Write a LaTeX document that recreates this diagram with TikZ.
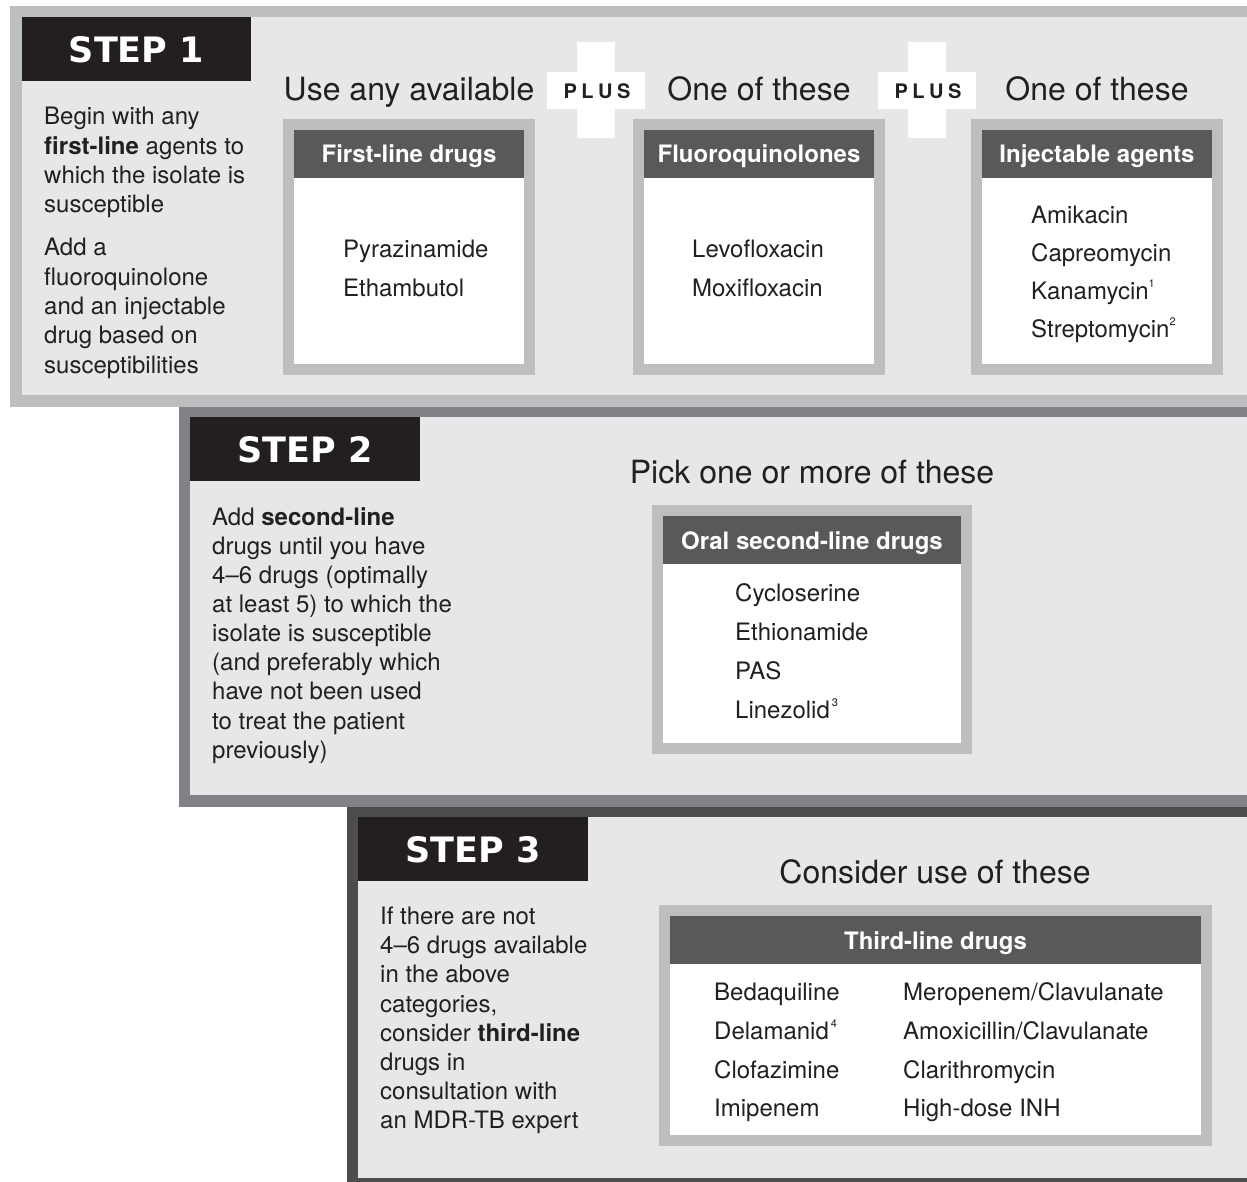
\documentclass[tikz,border=0pt]{standalone}
\usepackage{fontspec}
\setmainfont{TeX Gyre Heros}
\newfontfamily\stepfont{DejaVu Sans}
\definecolor{ink}{HTML}{231F20}
\definecolor{panelfill}{HTML}{E6E7E8}
\definecolor{borderA}{HTML}{BCBEC0}
\definecolor{borderB}{HTML}{808285}
\definecolor{borderC}{HTML}{4D4D4F}
\definecolor{hdrfill}{HTML}{58595B}
\newcommand\fnmark[1]{\raisebox{0.5em}{\fontsize{11}{11}\selectfont #1}}
\newcommand\drugbox[6]{%
  \fill[borderA] (#1,#2) rectangle (#3,#4);
  \fill[white] ({#1+11},{#2+11}) rectangle ({#3-11},{#4-11});
  \fill[hdrfill] ({#1+11},{#2+11}) rectangle ({#3-11},{#2+59});
  \node[hdrtxt] (#6) at ({(#1+#3)/2},{#2+44}) {#5};
}
\begin{document}
\begin{tikzpicture}[x=1pt,y=-1pt,
  txtline/.style={anchor=base west, inner sep=0pt, text=ink, font=\fontsize{24}{29}\selectfont},
  heading/.style={anchor=base, inner sep=0pt, text=ink, font=\fontsize{32}{38}\selectfont},
  steplbl/.style={text=white, font=\stepfont\bfseries\fontsize{35}{40}\selectfont, inner sep=0pt},
  hdrtxt/.style={anchor=base, text=white, font=\bfseries\fontsize{24}{28}\selectfont, inner sep=0pt},
  plustxt/.style={anchor=base, text=ink, font=\bfseries\fontsize{20}{24}\selectfont, inner sep=0pt}]
\clip (0,0) rectangle (1247,1182);
\fill[white] (0,0) rectangle (1247,1182);

% ---------- panels
\fill[borderA] (10,6) rectangle (1260,407);
\fill[panelfill] (22,17) rectangle (1260,395);
\fill[borderB] (179,407) rectangle (1260,807);
\fill[panelfill] (190,417) rectangle (1260,795);
\fill[borderC] (347,807) rectangle (1260,1190);
\fill[panelfill] (358,817) rectangle (1260,1178);

% ---------- step labels
\fill[ink] (22,17) rectangle (251,81);
\node[steplbl] (step1) at (136.5,49.5) {STEP 1};
\fill[ink] (190,417) rectangle (420,481);
\node[steplbl] (step2) at (305,449.5) {STEP 2};
\fill[ink] (358,817) rectangle (588,881);
\node[steplbl] (step3) at (473,849.5) {STEP 3};

% ---------- step 1 text
\node[txtline] (s1a) at (44,125) {Begin with any};
\node[txtline] (s1b) at (44,154.3) {\textbf{first-line} agents to};
\node[txtline] (s1c) at (44,183.5) {which the isolate is};
\node[txtline] (s1d) at (44,212.8) {susceptible};
\node[txtline] (s1e) at (44,256) {Add a};
\node[txtline] (s1f) at (44,285.3) {fluoroquinolone};
\node[txtline] (s1g) at (44,314.5) {and an injectable};
\node[txtline] (s1h) at (44,343.8) {drug based on};
\node[txtline] (s1i) at (44,373) {susceptibilities};

% ---------- step 1 headings and PLUS crosses
\node[heading] (h1) at (409,101) {Use any available};
\node[heading] (h2) at (759,101) {One of these};
\node[heading] (h3) at (1097,101) {One of these};
\fill[white] (547,72) rectangle (645,109);
\fill[white] (577,42) rectangle (615,138);
\node[plustxt] (plus1) at (597,98.5) {P\kern4.5pt L\kern4.5pt U\kern4.5pt S};
\fill[white] (878,72) rectangle (976,109);
\fill[white] (908,42) rectangle (946,138);
\node[plustxt] (plus2) at (928,98.5) {P\kern4.5pt L\kern4.5pt U\kern4.5pt S};

% ---------- step 1 boxes
\drugbox{283}{119}{535}{375}{First-line drugs}{hb1}
\node[txtline] (d11) at (343,258) {Pyrazinamide};
\node[txtline] (d12) at (343,297) {Ethambutol};
\drugbox{633}{119}{885}{375}{Fluoroquinolones}{hb2}
\node[txtline] (d21) at (692,258) {Levofloxacin};
\node[txtline] (d22) at (692,297) {Moxifloxacin};
\drugbox{971}{119}{1223}{375}{Injectable agents}{hb3}
\node[txtline] (d31) at (1031,223.3) {Amikacin};
\node[txtline] (d32) at (1031,261.7) {Capreomycin};
\node[txtline] (d33) at (1031,299.5) {Kanamycin\fnmark{1}};
\node[txtline] (d34) at (1031,337.5) {Streptomycin\fnmark{2}};

% ---------- step 2
\node[txtline] (s2a) at (212,525) {Add \textbf{second-line}};
\node[txtline] (s2b) at (212,554.2) {drugs until you have};
\node[txtline] (s2c) at (212,583.3) {4–6 drugs (optimally};
\node[txtline] (s2d) at (212,612.5) {at least 5) to which the};
\node[txtline] (s2e) at (212,641.6) {isolate is susceptible};
\node[txtline] (s2f) at (212,670.8) {(and preferably which};
\node[txtline] (s2g) at (212,699.9) {have not been used};
\node[txtline] (s2h) at (212,729.1) {to treat the patient};
\node[txtline] (s2i) at (212,758.2) {previously)};
\node[heading] (h4) at (812,483) {Pick one or more of these};
\drugbox{652}{505}{972}{754}{Oral second-line drugs}{hb4}
\node[txtline] (d41) at (735,601.5) {Cycloserine};
\node[txtline] (d42) at (735,640.5) {Ethionamide};
\node[txtline] (d43) at (735,679.3) {PAS};
\node[txtline] (d44) at (735,718) {Linezolid\kern2pt\fnmark{3}};

% ---------- step 3
\node[txtline] (s3a) at (380,924.5) {If there are not};
\node[txtline] (s3b) at (380,953.7) {4–6 drugs available};
\node[txtline] (s3c) at (380,982.9) {in the above};
\node[txtline] (s3d) at (380,1012.1) {categories,};
\node[txtline] (s3e) at (380,1041.3) {consider \textbf{third-line}};
\node[txtline] (s3f) at (380,1070.5) {drugs in};
\node[txtline] (s3g) at (380,1099.7) {consultation with};
\node[txtline] (s3h) at (380,1128.9) {an MDR-TB expert};
\node[heading] (h5) at (935,883) {Consider use of these};
\drugbox{659}{905}{1212}{1146}{Third-line drugs}{hb5}
\node[txtline] (d51) at (714,1000.5) {Bedaquiline};
\node[txtline] (d52) at (714,1039.2) {Delamanid\kern2pt\fnmark{4}};
\node[txtline] (d53) at (714,1078) {Clofazimine};
\node[txtline] (d54) at (714,1116.7) {Imipenem};
\node[txtline] (d55) at (903,1000.5) {Meropenem/Clavulanate};
\node[txtline] (d56) at (903,1039.2) {Amoxicillin/Clavulanate};
\node[txtline] (d57) at (903,1078) {Clarithromycin};
\node[txtline] (d58) at (903,1116.7) {High-dose INH};
\end{tikzpicture}
\end{document}
